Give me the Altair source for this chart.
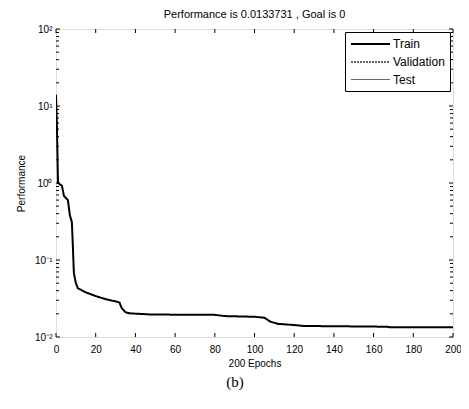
import altair as alt
import pandas as pd

# Training performance (Train curve)
epochs = [0, 0.5, 1, 3, 4, 6, 7, 8, 8.5, 9, 10, 11, 15, 20, 25, 30, 32, 33, 35, 37, 48, 60, 80, 85,
          100, 105, 108, 112, 120, 125, 140, 167, 168, 200]
train = [14, 5, 1.0, 0.92, 0.68, 0.6, 0.38, 0.31, 0.15, 0.068, 0.05, 0.043, 0.038, 0.034, 0.031,
         0.029, 0.028, 0.024, 0.021, 0.0203, 0.0196, 0.0195, 0.0194, 0.0187,
         0.0183, 0.0178, 0.0158, 0.0148, 0.0143, 0.0139, 0.0138, 0.0136, 0.0134, 0.0134]

series_names = ["Train", "Validation", "Test"]
x_ticks = [0, 20, 40, 60, 80, 100, 120, 140, 160, 180, 200]
y_major = [0.01, 0.1, 1, 10, 100]
y_minor = [m * d for d in [0.01, 0.1, 1, 10] for m in range(2, 10)]

title_text = "Performance is 0.0133731 , Goal is 0"
x_title = "200 Epochs"
y_title = "Performance"
caption = "(b)"

W, H = 397, 308
FONT = "Liberation Sans"

df = pd.DataFrame({"epoch": epochs, "perf": train, "series": ["Train"] * len(epochs)})
xt = pd.DataFrame({"t": x_ticks})
yt = pd.DataFrame({"t": y_major + y_minor, "major": [True] * len(y_major) + [False] * len(y_minor)})

xscale = alt.Scale(domain=[0, 200], nice=False, zero=False)
yscale = alt.Scale(type="log", domain=[0.01, 100], nice=False)

label_expr = ("datum.value >= 99 ? '10²' : datum.value >= 9 ? '10¹' : datum.value >= 0.9 ? '10⁰' : "
              "datum.value >= 0.09 ? '10⁻¹' : '10⁻²'")

xaxis = alt.Axis(values=x_ticks, title=x_title, ticks=False, domain=False, grid=False,
                 labelOverlap=False, labelFlush=False,
                 labelFontSize=10, labelPadding=7, titleFontSize=10,
                 titleFontWeight="normal", titlePadding=4, labelFont=FONT, titleFont=FONT,
                 labelColor="black", titleColor="black")
yaxis = alt.Axis(values=y_major, labelExpr=label_expr, title=y_title, ticks=False,
                 domain=False, grid=False, labelFontSize=10, labelPadding=4,
                 labelOverlap=False, labelFlush=False,
                 titleFontSize=10, titleFontWeight="normal", titlePadding=8,
                 labelFont=FONT, titleFont=FONT, labelColor="black", titleColor="black")

line = alt.Chart(df).mark_line(color="black", clip=True).encode(
    x=alt.X("epoch:Q", scale=xscale, axis=xaxis),
    y=alt.Y("perf:Q", scale=yscale, axis=yaxis),
    color=alt.Color("series:N", scale=alt.Scale(domain=series_names, range=["black", "#333333", "#666666"]),
                    legend=alt.Legend(title=None, orient="top-right", offset=3, fillColor="white",
                                      strokeColor="black", padding=5, labelFontSize=12, labelFont=FONT,
                                      labelColor="black", symbolType="M-1,0H5.5", symbolSize=144,
                                      rowPadding=5, labelOffset=29)),
    strokeDash=alt.StrokeDash("series:N", scale=alt.Scale(domain=series_names, range=[[1, 0], [2, 1], [1, 0]]),
                              legend=alt.Legend(title=None)),
    strokeWidth=alt.StrokeWidth("series:N", scale=alt.Scale(domain=series_names, range=[2, 1, 1]),
                                legend=alt.Legend(title=None)),
)

xb = alt.Chart(xt).mark_rule(color="black", strokeWidth=1).encode(
    x=alt.X("t:Q", scale=xscale, axis=xaxis), y=alt.value(H), y2=alt.value(H - 4))
xtp = alt.Chart(xt).mark_rule(color="black", strokeWidth=1).encode(
    x=alt.X("t:Q", scale=xscale, axis=xaxis), y=alt.value(0), y2=alt.value(4))
ylmaj = alt.Chart(yt).transform_filter("datum.major").mark_rule(color="black").encode(
    y=alt.Y("t:Q", scale=yscale, axis=yaxis), x=alt.value(0), x2=alt.value(4))
ylmin = alt.Chart(yt).transform_filter("!datum.major").mark_rule(color="black").encode(
    y=alt.Y("t:Q", scale=yscale, axis=yaxis), x=alt.value(0), x2=alt.value(3))
yrmaj = alt.Chart(yt).transform_filter("datum.major").mark_rule(color="black").encode(
    y=alt.Y("t:Q", scale=yscale, axis=yaxis), x=alt.value(W), x2=alt.value(W - 4))
yrmin = alt.Chart(yt).transform_filter("!datum.major").mark_rule(color="black").encode(
    y=alt.Y("t:Q", scale=yscale, axis=yaxis), x=alt.value(W), x2=alt.value(W - 3))

cap = alt.Chart(pd.DataFrame({"c": [caption]})).mark_text(
    font="Liberation Serif", fontSize=15, color="black", baseline="middle", align="center").encode(
    text="c:N", x=alt.value(179), y=alt.value(353))

chart = alt.layer(line, xb, xtp, ylmaj, ylmin, yrmaj, yrmin, cap).properties(
    width=W, height=H,
    title=alt.TitleParams(title_text, fontSize=11, fontWeight="normal", font=FONT, color="black", offset=4),
    autosize=alt.AutoSizeParams(type="none"),
    padding={"left": 48, "top": 21, "right": 8, "bottom": 64},
).configure_view(stroke="black", strokeWidth=1).configure(background="white")

chart.save("out.html", embed_options={"renderer": "svg", "actions": False})
